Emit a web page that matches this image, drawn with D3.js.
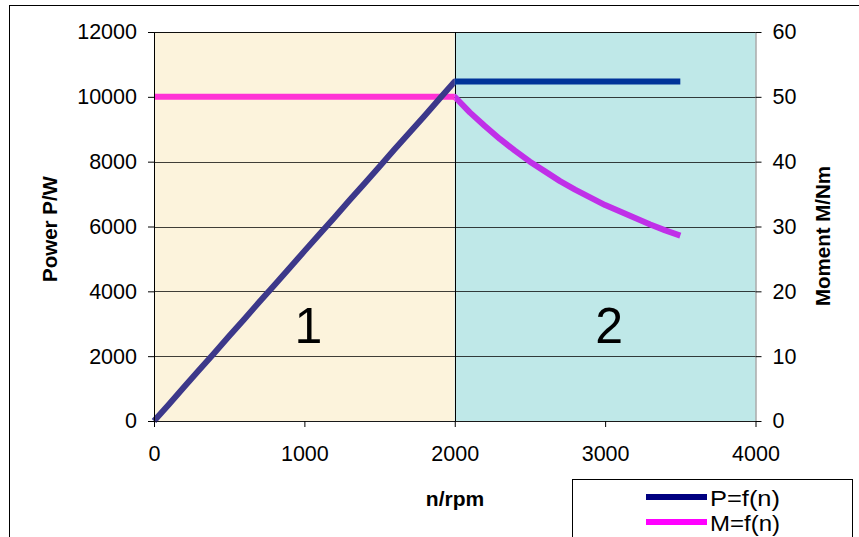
<!DOCTYPE html>
<html>
<head>
<meta charset="utf-8">
<script src="https://cdn.jsdelivr.net/npm/d3@7"></script>
<style>
  html, body { margin: 0; padding: 0; background: #fff; }
  svg { display: block; font-family: "Liberation Sans", Arial, sans-serif; }
</style>
</head>
<body>
<svg id="chart" width="859" height="537"></svg>
<script>
// ---- data ----
const speed = [0, 100, 200, 300, 400, 500, 600, 700, 800, 900, 1000,
               1100, 1200, 1300, 1400, 1500, 1600, 1700, 1800, 1900, 2000,
               2100, 2200, 2300, 2400, 2500, 2600, 2700, 2800, 2900, 3000,
               3100, 3200, 3300, 3400, 3500];
const power = [0, 520, 1050, 1570, 2090, 2620, 3140, 3670, 4190, 4710, 5240,
               5760, 6280, 6810, 7330, 7850, 8380, 8900, 9420, 9950, 10470,
               10470, 10470, 10470, 10470, 10470, 10470, 10470, 10470, 10470, 10470,
               10470, 10470, 10470, 10470, 10470];
const moment = [50, 50, 50, 50, 50, 50, 50, 50, 50, 50, 50,
                50, 50, 50, 50, 50, 50, 50, 50, 50, 50,
                47.6, 45.5, 43.5, 41.7, 40.0, 38.5, 37.0, 35.7, 34.5, 33.3,
                32.3, 31.3, 30.3, 29.4, 28.6];
const xTicks = [0, 1000, 2000, 3000, 4000];
const yLeftTicks = [0, 2000, 4000, 6000, 8000, 10000, 12000];
const yRightTicks = [0, 10, 20, 30, 40, 50, 60];
const regions = [
  {label: "1", from: 0, to: 2000},
  {label: "2", from: 2000, to: 4000}
];
const seriesNames = ["P=f(n)", "M=f(n)"];

// ---- layout ----
const svg = d3.select("#chart");
const L = 154, R = 755.5, T = 32, B = 421;
const x = d3.scaleLinear().domain([0, 4000]).range([L, R]);
const yL = d3.scaleLinear().domain([0, 12000]).range([B, T]);
const yR = d3.scaleLinear().domain([0, 60]).range([B, T]);

const regionFill = ["#fcf3dc", "#bfe8e8"];
const pColors = ["#3c388a", "#003399"];
const mColors = ["#ff33d6", "#c030e8"];
const pLegend = "#000080", mLegend = "#ff00ff";

// outer chart border
svg.append("rect").attr("x", 9.5).attr("y", 5.5).attr("width", 900).attr("height", 600)
  .attr("fill", "none").attr("stroke", "#000").attr("stroke-width", 1);

// region fills
svg.selectAll("rect.region").data(regions).enter().append("rect")
  .attr("class", "region")
  .attr("x", d => x(d.from)).attr("y", T)
  .attr("width", d => x(d.to) - x(d.from)).attr("height", B - T)
  .attr("fill", (d, i) => regionFill[i]);

// gridlines
svg.append("g").selectAll("line").data(yLeftTicks).enter().append("line")
  .attr("x1", L).attr("x2", R)
  .attr("y1", d => Math.round(yL(d)) + 0.5).attr("y2", d => Math.round(yL(d)) + 0.5)
  .attr("stroke", "#000").attr("stroke-opacity", 0.75).attr("stroke-width", 1);

// region separator
svg.append("line")
  .attr("x1", Math.round(x(2000)) + 0.5).attr("x2", Math.round(x(2000)) + 0.5)
  .attr("y1", T).attr("y2", B)
  .attr("stroke", "#000").attr("stroke-width", 1);

// clip paths per region
const defs = svg.append("defs");
regions.forEach((r, i) => {
  defs.append("clipPath").attr("id", "clip" + i).append("rect")
    .attr("x", i === 0 ? 0 : x(r.from)).attr("y", 0)
    .attr("width", i === 0 ? x(r.to) : 859 - x(r.from)).attr("height", 537);
});

const pts = speed.map((n, i) => ({n, p: power[i], m: moment[i]}));
const lineP = d3.line().x(d => x(d.n)).y(d => yL(d.p));
const lineM = d3.line().x(d => x(d.n)).y(d => yR(d.m));

regions.forEach((r, i) => {
  const g = svg.append("g").attr("clip-path", `url(#clip${i})`);
  g.append("path").datum(pts).attr("d", lineM)
    .attr("fill", "none").attr("stroke", mColors[i]).attr("stroke-width", 6)
    .attr("stroke-linejoin", "round");
  g.append("path").datum(pts).attr("d", lineP)
    .attr("fill", "none").attr("stroke", pColors[i]).attr("stroke-width", 6)
    .attr("stroke-linejoin", "round");
});

// region labels
svg.selectAll("text.region").data(regions).enter().append("text")
  .attr("class", "region")
  .attr("x", d => (x(d.from) + x(d.to)) / 2 + 4).attr("y", 343)
  .attr("text-anchor", "middle").attr("font-size", 50).attr("fill", "#000")
  .text(d => d.label);

// axes
const fs = "21.5px";
const axL = svg.append("g").attr("transform", `translate(${L},0)`)
  .call(d3.axisLeft(yL).tickValues(yLeftTicks).tickFormat(d3.format("d")).tickSize(6).tickSizeOuter(0).tickPadding(11));
const axR = svg.append("g").attr("transform", `translate(${R},0)`)
  .call(d3.axisRight(yR).tickValues(yRightTicks).tickFormat(d3.format("d")).tickSize(6).tickSizeOuter(0).tickPadding(11));
const axB = svg.append("g").attr("transform", `translate(0,${B})`)
  .call(d3.axisBottom(x).tickValues(xTicks).tickFormat(d3.format("d")).tickSize(6).tickSizeOuter(0).tickPadding(19));
[axL, axR, axB].forEach(a => {
  a.selectAll("text").attr("font-size", fs).attr("font-family", "'Liberation Sans', Arial, sans-serif").attr("fill", "#000");
  a.selectAll("line").attr("stroke", "#000");
  a.select(".domain").attr("stroke", "#000");
});
axR.select(".domain").attr("stroke", "#808080");
axB.select(".domain").attr("stroke", "#000").attr("stroke-opacity", 0.6);
// top border of plot
svg.append("line").attr("x1", L).attr("x2", R).attr("y1", T + 0.5).attr("y2", T + 0.5)
  .attr("stroke", "#000").attr("stroke-opacity", 0.75);

// axis titles
svg.append("text").attr("transform", "translate(57,229) rotate(-90)")
  .attr("text-anchor", "middle").attr("font-size", 20.5).attr("font-weight", "bold").text("Power P/W");
svg.append("text").attr("transform", "translate(830,236) rotate(-90)")
  .attr("text-anchor", "middle").attr("font-size", 20.5).attr("font-weight", "bold").text("Moment M/Nm");
svg.append("text").attr("x", 455).attr("y", 506)
  .attr("text-anchor", "middle").attr("font-size", 21).attr("font-weight", "bold").text("n/rpm");

// legend
const lg = svg.append("g");
lg.append("rect").attr("x", 572.5).attr("y", 479.5).attr("width", 280).attr("height", 80)
  .attr("fill", "#fff").attr("stroke", "#000");
const legendColors = [pLegend, mLegend];
seriesNames.forEach((s, i) => {
  const yy = 497 + i * 25;
  lg.append("line").attr("x1", 646).attr("x2", 707).attr("y1", yy).attr("y2", yy)
    .attr("stroke", legendColors[i]).attr("stroke-width", 6);
  lg.append("text").attr("x", 710).attr("y", yy + 9).attr("font-size", 21.5)
    .attr("textLength", 70).attr("lengthAdjust", "spacingAndGlyphs").text(s);
});
</script>
</body>
</html>
